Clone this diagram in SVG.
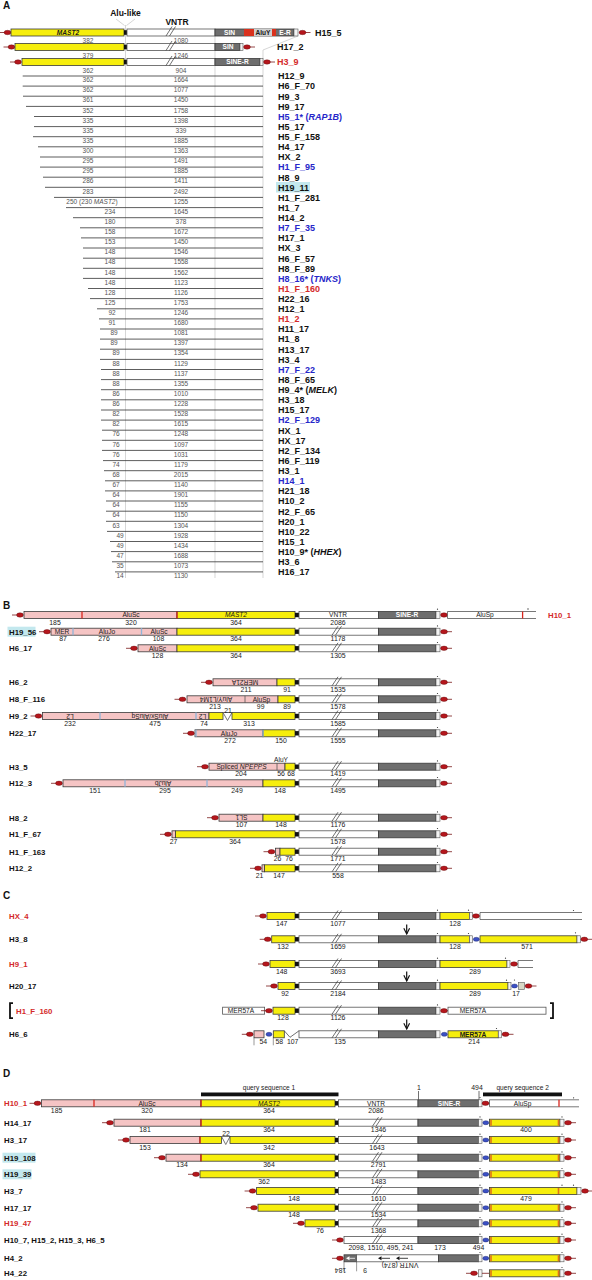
<svg xmlns="http://www.w3.org/2000/svg" width="592" height="1280" viewBox="0 0 592 1280">
<defs>
<style>
text{font-family:"Liberation Sans",Arial,sans-serif}
.y{fill:#f6ee0c;stroke:#3a3a3a;stroke-width:.8}
.p{fill:#f5c4c4;stroke:#3a3a3a;stroke-width:.8}
.w{fill:#fff;stroke:#555;stroke-width:.8}
.g{fill:#6e6e6e;stroke:#3a3a3a;stroke-width:.8}
.e{fill:#f4f4f4;stroke:#555;stroke-width:.6}
.k{fill:#111}
.rm{stroke:#d8261e;stroke-width:1.3}
.om{stroke:#e0701a;stroke-width:1.6}
.bm{stroke:#8fb4d8;stroke-width:1.3}
.sl{stroke:#333;stroke-width:.7;fill:none}
.gd{stroke:#c4c4c4;stroke-width:.7;fill:none}
.al{stroke:#333;stroke-width:.8}
.ln{stroke:#7a1a1a;stroke-width:.8}
.ce{fill:#b5161c;stroke:#5c0b0b;stroke-width:.4}
.cbe{fill:#3b50c4;stroke:#1c2466;stroke-width:.4}
.dot{fill:#333}
.la{font-size:9px;font-weight:bold;fill:#111}
.lb{font-size:7.8px;font-weight:bold;fill:#111}
.na{font-size:6.5px;fill:#555;text-anchor:middle}
.nb{font-size:6.9px;fill:#1a1a1a;text-anchor:middle}
.t{font-size:6.6px;fill:#1a1a1a;text-anchor:middle}
.tw{font-size:6.6px;fill:#fff;text-anchor:middle;font-weight:bold}
.it{font-style:italic}
.red{fill:#d42a2a}
.blu{fill:#2626c9}
.hl{fill:#c3e8ee}
.pl{font-size:10px;font-weight:bold;fill:#111}
.br{stroke:#111;stroke-width:1.8;fill:none}
.ar{stroke:#111;stroke-width:1.2;fill:none}
</style>
<g id="cl"><line class="ln" x1="-8" y1="0" x2="0" y2="0"/><ellipse class="ce" rx="3.4" ry="2.2"/></g>
<g id="cr"><line class="ln" x1="0" y1="0" x2="8" y2="0"/><ellipse class="ce" rx="3.4" ry="2.2"/></g>
<g id="cb"><ellipse class="cbe" rx="3" ry="2"/></g>
<g id="sl" class="sl"><line x1="-6" y1="3.5" x2="0" y2="-5.5"/><line x1="-2.5" y1="3.5" x2="3.5" y2="-5.5"/></g>
<g id="slA" class="sl"><line x1="-6" y1="3.5" x2="0" y2="-6"/><line x1="-2.5" y1="3.5" x2="3.5" y2="-6"/></g>
<g id="coreB"><rect class="k" x="295" y="-2.2" width="4" height="4.4"/><rect class="w" x="299" y="-3.5" width="79.5" height="7"/><rect class="g" x="378.5" y="-3.5" width="57.5" height="7"/><rect class="e" x="436" y="-3.5" width="4" height="7"/><circle class="dot" cx="437.5" cy="-5.8" r=".6"/></g>
<g id="coreD"><rect class="k" x="335" y="-2.2" width="3.5" height="4.4"/><rect class="w" x="338.5" y="-3.5" width="79.5" height="7"/><rect class="g" x="418" y="-3.5" width="60.5" height="7"/><rect class="e" x="478.5" y="-3.5" width="3.5" height="7"/><circle class="dot" cx="480" cy="-5.8" r=".6"/></g>
<g id="tailY"><rect class="y" x="489.5" y="-3.5" width="70.5" height="7"/><line class="om" x1="491" y1="-3" x2="491" y2="3"/><line class="om" x1="558.5" y1="-3" x2="558.5" y2="3"/><rect class="e" x="560" y="-3.5" width="4" height="7"/><circle class="dot" cx="562" cy="-5.8" r=".6"/><use href="#cr" x="568"/></g>
<g id="tailD"><use href="#cb" x="485.8"/><use href="#tailY"/></g>
<marker id="ah" viewBox="0 0 10 10" refX="9" refY="5" markerWidth="6" markerHeight="6" orient="auto"><path d="M1,1 L9,5 L1,9" fill="none" stroke="#111" stroke-width="1.6"/></marker>
</defs>
<rect width="592" height="1280" fill="#fff"/>

<!-- PANEL A -->
<g id="panelA">
<text class="pl" x="3" y="9">A</text>
<text x="125.5" y="16" font-size="8.5" font-weight="bold" text-anchor="middle" fill="#111">Alu-like</text>
<text x="177" y="25" font-size="8.5" font-weight="bold" text-anchor="middle" fill="#111">VNTR</text>
<g id="guides" class="gd">
<path d="M116,19 L124.5,25.5 M135,19 L126.5,25.5"/>
<line x1="125.5" y1="25" x2="125.5" y2="578"/>
<line x1="215" y1="37" x2="215" y2="578"/>
<path d="M298,36 L263,50 V578"/>
</g>

<g id="A_H15_5" transform="translate(0,32.5)">
<use href="#cl" x="7.5"/>
<rect class="y" x="11" y="-3.5" width="113" height="7"/>
<text class="t it" x="68" y="2.5" font-weight="bold" font-size="7.5">MAST2</text>
<rect class="k" x="124" y="-2.3" width="3" height="4.6"/>
<rect class="w" x="127" y="-3.5" width="88" height="7"/>
<use href="#slA" x="172"/>
<rect class="g" x="215" y="-3.5" width="79" height="7"/>
<rect fill="#d9321e" x="244" y="-3.5" width="10" height="7"/>
<rect fill="#cfcfcf" x="254" y="-3.5" width="18" height="7"/>
<rect fill="#d9321e" x="272" y="-3.5" width="4" height="7"/>
<text class="tw" x="229.5" y="2.4">SIN</text>
<text class="t" x="263" y="2.4" font-weight="bold">AluY</text>
<text class="tw" x="285" y="2.4">E-R</text>
<rect class="e" x="294" y="-3.5" width="4" height="7"/>
<use href="#cr" x="302.5"/>
<text class="la" x="315" y="3.3">H15_5</text>
<text class="na" x="88" y="10.5">382</text><text class="na" x="181" y="10.5">1080</text>
</g>
<g id="A_H17_2" transform="translate(0,47)">
<use href="#cl" x="11.5"/>
<rect class="y" x="15" y="-3.5" width="109" height="7"/>
<rect class="k" x="124" y="-2.3" width="3" height="4.6"/>
<rect class="w" x="127" y="-3.5" width="88" height="7"/>
<use href="#slA" x="172"/>
<rect class="g" x="215" y="-3.5" width="25" height="7"/>
<text class="tw" x="228" y="2.4">SIN</text>
<rect class="e" x="240" y="-3.5" width="3" height="7"/>
<use href="#cr" x="247"/>
<text class="la" x="277" y="3.3">H17_2</text>
<text class="na" x="88" y="10.5">379</text><text class="na" x="181" y="10.5">1246</text>
</g>
<g id="A_H3_9" transform="translate(0,62)">
<use href="#cl" x="18"/>
<rect class="y" x="22" y="-3.5" width="102" height="7"/>
<rect class="k" x="124" y="-2.3" width="3" height="4.6"/>
<rect class="w" x="127" y="-3.5" width="88" height="7"/>
<use href="#slA" x="172"/>
<rect class="g" x="215" y="-3.5" width="45" height="7"/>
<text class="tw" x="237.5" y="2.4">SINE-R</text>
<rect class="e" x="260" y="-3.5" width="3" height="7"/>
<use href="#cr" x="267"/>
<text class="la red" x="277" y="3.3">H3_9</text>
<text class="na" x="88" y="10.5">362</text><text class="na" x="181" y="10.5">904</text>
</g>

<g id="A_H12_9" transform="translate(0,76)"><line class="al" x1="22.7" x2="263"/><text class="na" x="88" y="6.3">362</text><text class="na" x="181" y="6.3">1664</text><text class="la" x="278" y="3.3">H12_9</text></g>
<g id="A_H6_F_70" transform="translate(0,86.1)"><line class="al" x1="22.7" x2="263"/><text class="na" x="88" y="6.3">362</text><text class="na" x="181" y="6.3">1077</text><text class="la" x="278" y="3.3">H6_F_70</text></g>
<g id="A_H9_3" transform="translate(0,96.2)"><line class="al" x1="23" x2="263"/><text class="na" x="88" y="6.3">361</text><text class="na" x="181" y="6.3">1450</text><text class="la" x="278" y="3.3">H9_3</text></g>
<g id="A_H9_17" transform="translate(0,106.4)"><line class="al" x1="26" x2="263"/><text class="na" x="88" y="6.3">352</text><text class="na" x="181" y="6.3">1758</text><text class="la" x="278" y="3.3">H9_17</text></g>
<g id="A_H5_1" transform="translate(0,116.5)"><line class="al" x1="34" x2="263"/><text class="na" x="88" y="6.3">335</text><text class="na" x="181" y="6.3">1398</text><text class="la blu" x="278" y="3.3">H5_1* (<tspan class="it">RAP1B</tspan>)</text></g>
<g id="A_H5_17" transform="translate(0,126.6)"><line class="al" x1="34" x2="263"/><text class="na" x="88" y="6.3">335</text><text class="na" x="181" y="6.3">339</text><text class="la" x="278" y="3.3">H5_17</text></g>
<g id="A_H5_F_158" transform="translate(0,136.7)"><line class="al" x1="33" x2="263"/><text class="na" x="88" y="6.3">335</text><text class="na" x="181" y="6.3">1885</text><text class="la" x="278" y="3.3">H5_F_158</text></g>
<g id="A_H4_17" transform="translate(0,146.8)"><line class="al" x1="38" x2="263"/><text class="na" x="88" y="6.3">300</text><text class="na" x="181" y="6.3">1363</text><text class="la" x="278" y="3.3">H4_17</text></g>
<g id="A_HX_2" transform="translate(0,157)"><line class="al" x1="40" x2="263"/><text class="na" x="88" y="6.3">295</text><text class="na" x="181" y="6.3">1491</text><text class="la" x="278" y="3.3">HX_2</text></g>
<g id="A_H1_F_95" transform="translate(0,167.1)"><line class="al" x1="40" x2="263"/><text class="na" x="88" y="6.3">295</text><text class="na" x="181" y="6.3">1885</text><text class="la blu" x="278" y="3.3">H1_F_95</text></g>
<g id="A_H8_9" transform="translate(0,177.2)"><line class="al" x1="43" x2="263"/><text class="na" x="88" y="6.3">286</text><text class="na" x="181" y="6.3">1411</text><text class="la" x="278" y="3.3">H8_9</text></g>
<g id="A_H19_11" transform="translate(0,187.3)"><rect class="hl" x="276" y="-5.3" width="34" height="10.5"/><line class="al" x1="45" x2="263"/><text class="na" x="88" y="6.3">283</text><text class="na" x="181" y="6.3">2492</text><text class="la" x="278" y="3.3">H19_11</text></g>
<g id="A_H1_F_281" transform="translate(0,197.4)"><line class="al" x1="54" x2="263"/><text class="na" x="92" y="6.3">250 (230 <tspan class="it">MAST2</tspan>)</text><text class="na" x="181" y="6.3">1255</text><text class="la" x="278" y="3.3">H1_F_281</text></g>
<g id="A_H1_7" transform="translate(0,207.6)"><line class="al" x1="66" x2="263"/><text class="na" x="110" y="6.3">234</text><text class="na" x="181" y="6.3">1645</text><text class="la" x="278" y="3.3">H1_7</text></g>
<g id="A_H14_2" transform="translate(0,217.7)"><line class="al" x1="73" x2="263"/><text class="na" x="110" y="6.3">180</text><text class="na" x="181" y="6.3">378</text><text class="la" x="278" y="3.3">H14_2</text></g>
<g id="A_H7_F_35" transform="translate(0,227.8)"><line class="al" x1="80" x2="263"/><text class="na" x="110" y="6.3">158</text><text class="na" x="181" y="6.3">1672</text><text class="la blu" x="278" y="3.3">H7_F_35</text></g>
<g id="A_H17_1" transform="translate(0,237.9)"><line class="al" x1="81" x2="263"/><text class="na" x="110" y="6.3">153</text><text class="na" x="181" y="6.3">1450</text><text class="la" x="278" y="3.3">H17_1</text></g>
<g id="A_HX_3" transform="translate(0,248)"><line class="al" x1="83" x2="263"/><text class="na" x="110" y="6.3">148</text><text class="na" x="181" y="6.3">1546</text><text class="la" x="278" y="3.3">HX_3</text></g>
<g id="A_H6_F_57" transform="translate(0,258.2)"><line class="al" x1="83" x2="263"/><text class="na" x="110" y="6.3">148</text><text class="na" x="181" y="6.3">1558</text><text class="la" x="278" y="3.3">H6_F_57</text></g>
<g id="A_H8_F_89" transform="translate(0,268.3)"><line class="al" x1="83" x2="263"/><text class="na" x="110" y="6.3">148</text><text class="na" x="181" y="6.3">1562</text><text class="la" x="278" y="3.3">H8_F_89</text></g>
<g id="A_H8_16" transform="translate(0,278.4)"><line class="al" x1="83" x2="263"/><text class="na" x="110" y="6.3">148</text><text class="na" x="181" y="6.3">1123</text><text class="la blu" x="278" y="3.3">H8_16* (<tspan class="it">TNKS</tspan>)</text></g>
<g id="A_H1_F_160" transform="translate(0,288.5)"><line class="al" x1="88" x2="263"/><text class="na" x="110" y="6.3">128</text><text class="na" x="181" y="6.3">1126</text><text class="la red" x="278" y="3.3">H1_F_160</text></g>
<g id="A_H22_16" transform="translate(0,298.6)"><line class="al" x1="90" x2="263"/><text class="na" x="110" y="6.3">125</text><text class="na" x="181" y="6.3">1753</text><text class="la" x="278" y="3.3">H22_16</text></g>
<g id="A_H12_1" transform="translate(0,308.8)"><line class="al" x1="97" x2="263"/><text class="na" x="112" y="6.3">92</text><text class="na" x="181" y="6.3">1246</text><text class="la" x="278" y="3.3">H12_1</text></g>
<g id="A_H1_2" transform="translate(0,318.9)"><line class="al" x1="99" x2="263"/><text class="na" x="112" y="6.3">91</text><text class="na" x="181" y="6.3">1680</text><text class="la red" x="278" y="3.3">H1_2</text></g>
<g id="A_H11_17" transform="translate(0,329)"><line class="al" x1="100" x2="263"/><text class="na" x="114" y="6.3">89</text><text class="na" x="181" y="6.3">1081</text><text class="la" x="278" y="3.3">H11_17</text></g>
<g id="A_H1_8" transform="translate(0,339.1)"><line class="al" x1="100" x2="263"/><text class="na" x="114" y="6.3">89</text><text class="na" x="181" y="6.3">1397</text><text class="la" x="278" y="3.3">H1_8</text></g>
<g id="A_H13_17" transform="translate(0,349.2)"><line class="al" x1="100" x2="263"/><text class="na" x="116" y="6.3">89</text><text class="na" x="181" y="6.3">1354</text><text class="la" x="278" y="3.3">H13_17</text></g>
<g id="A_H3_4" transform="translate(0,359.4)"><line class="al" x1="100" x2="263"/><text class="na" x="116" y="6.3">88</text><text class="na" x="181" y="6.3">1129</text><text class="la" x="278" y="3.3">H3_4</text></g>
<g id="A_H7_F_22" transform="translate(0,369.5)"><line class="al" x1="101" x2="263"/><text class="na" x="116" y="6.3">88</text><text class="na" x="181" y="6.3">1137</text><text class="la blu" x="278" y="3.3">H7_F_22</text></g>
<g id="A_H8_F_65" transform="translate(0,379.6)"><line class="al" x1="101" x2="263"/><text class="na" x="116" y="6.3">88</text><text class="na" x="181" y="6.3">1355</text><text class="la" x="278" y="3.3">H8_F_65</text></g>
<g id="A_H9_4" transform="translate(0,389.7)"><line class="al" x1="101" x2="263"/><text class="na" x="116" y="6.3">86</text><text class="na" x="181" y="6.3">1010</text><text class="la" x="278" y="3.3">H9_4* (<tspan class="it">MELK</tspan>)</text></g>
<g id="A_H3_18" transform="translate(0,399.8)"><line class="al" x1="101" x2="263"/><text class="na" x="116" y="6.3">86</text><text class="na" x="181" y="6.3">1228</text><text class="la" x="278" y="3.3">H3_18</text></g>
<g id="A_H15_17" transform="translate(0,410)"><line class="al" x1="101" x2="263"/><text class="na" x="116" y="6.3">82</text><text class="na" x="181" y="6.3">1528</text><text class="la" x="278" y="3.3">H15_17</text></g>
<g id="A_H2_F_129" transform="translate(0,420.1)"><line class="al" x1="101" x2="263"/><text class="na" x="116" y="6.3">82</text><text class="na" x="181" y="6.3">1615</text><text class="la blu" x="278" y="3.3">H2_F_129</text></g>
<g id="A_HX_1" transform="translate(0,430.2)"><line class="al" x1="102" x2="263"/><text class="na" x="116" y="6.3">76</text><text class="na" x="181" y="6.3">1248</text><text class="la" x="278" y="3.3">HX_1</text></g>
<g id="A_HX_17" transform="translate(0,440.3)"><line class="al" x1="102" x2="263"/><text class="na" x="116" y="6.3">76</text><text class="na" x="181" y="6.3">1097</text><text class="la" x="278" y="3.3">HX_17</text></g>
<g id="A_H2_F_134" transform="translate(0,450.4)"><line class="al" x1="102" x2="263"/><text class="na" x="116" y="6.3">76</text><text class="na" x="181" y="6.3">1031</text><text class="la" x="278" y="3.3">H2_F_134</text></g>
<g id="A_H6_F_119" transform="translate(0,460.6)"><line class="al" x1="103" x2="263"/><text class="na" x="116" y="6.3">74</text><text class="na" x="181" y="6.3">1179</text><text class="la" x="278" y="3.3">H6_F_119</text></g>
<g id="A_H3_1" transform="translate(0,470.7)"><line class="al" x1="104" x2="263"/><text class="na" x="116" y="6.3">68</text><text class="na" x="181" y="6.3">2015</text><text class="la" x="278" y="3.3">H3_1</text></g>
<g id="A_H14_1" transform="translate(0,480.8)"><line class="al" x1="105" x2="263"/><text class="na" x="116" y="6.3">67</text><text class="na" x="181" y="6.3">1140</text><text class="la blu" x="278" y="3.3">H14_1</text></g>
<g id="A_H21_18" transform="translate(0,490.9)"><line class="al" x1="105" x2="263"/><text class="na" x="116" y="6.3">64</text><text class="na" x="181" y="6.3">1901</text><text class="la" x="278" y="3.3">H21_18</text></g>
<g id="A_H10_2" transform="translate(0,501)"><line class="al" x1="106" x2="263"/><text class="na" x="116" y="6.3">64</text><text class="na" x="181" y="6.3">1155</text><text class="la" x="278" y="3.3">H10_2</text></g>
<g id="A_H2_F_65" transform="translate(0,511.2)"><line class="al" x1="106" x2="263"/><text class="na" x="116" y="6.3">64</text><text class="na" x="181" y="6.3">1150</text><text class="la" x="278" y="3.3">H2_F_65</text></g>
<g id="A_H20_1" transform="translate(0,521.3)"><line class="al" x1="106" x2="263"/><text class="na" x="116" y="6.3">63</text><text class="na" x="181" y="6.3">1304</text><text class="la" x="278" y="3.3">H20_1</text></g>
<g id="A_H10_22" transform="translate(0,531.4)"><line class="al" x1="107" x2="263"/><text class="na" x="120" y="6.3">49</text><text class="na" x="181" y="6.3">1928</text><text class="la" x="278" y="3.3">H10_22</text></g>
<g id="A_H15_1" transform="translate(0,541.5)"><line class="al" x1="110" x2="263"/><text class="na" x="120" y="6.3">49</text><text class="na" x="181" y="6.3">1434</text><text class="la" x="278" y="3.3">H15_1</text></g>
<g id="A_H10_9" transform="translate(0,551.6)"><line class="al" x1="111" x2="263"/><text class="na" x="120" y="6.3">47</text><text class="na" x="181" y="6.3">1688</text><text class="la" x="278" y="3.3">H10_9* (<tspan class="it">HHEX</tspan>)</text></g>
<g id="A_H3_6" transform="translate(0,561.8)"><line class="al" x1="112" x2="263"/><text class="na" x="120" y="6.3">35</text><text class="na" x="181" y="6.3">1073</text><text class="la" x="278" y="3.3">H3_6</text></g>
<g id="A_H16_17" transform="translate(0,571.9)"><line class="al" x1="115" x2="263"/><text class="na" x="120" y="6.3">14</text><text class="na" x="181" y="6.3">1130</text><text class="la" x="278" y="3.3">H16_17</text></g>
</g>

<!-- PANEL B -->
<g id="panelB">
<text class="pl" x="3" y="609">B</text>
<g id="B_H10_1" transform="translate(0,615)">
<use href="#cl" x="20"/>
<rect class="p" x="24" y="-3.5" width="153" height="7"/>
<rect class="y" x="177" y="-3.5" width="118" height="7"/>
<line class="rm" x1="82" y1="-3.5" x2="82" y2="3.5"/><line class="rm" x1="177" y1="-3.5" x2="177" y2="3.5"/>
<text class="t" x="131" y="2.3">AluSc</text>
<text class="t it" x="236" y="2.3">MAST2</text>
<use href="#coreB"/>
<text class="t" x="338" y="2.3">VNTR</text>
<text class="tw" x="407" y="2.3">SINE-R</text>
<use href="#cr" x="444"/>
<path class="w" d="M536,-3.5H447.5V3.5H536"/>
<line class="rm" x1="522.6" y1="-3.5" x2="522.6" y2="3.5"/>
<text class="t" x="485" y="2.3">AluSp</text>
<circle class="dot" cx="528" cy="-6" r=".7"/>
<text class="lb red" x="548" y="3">H10_1</text>
<text class="nb" x="55" y="9.8">185</text><text class="nb" x="131" y="9.8">320</text><text class="nb" x="236" y="9.8">364</text><text class="nb" x="338" y="9.8">2086</text>
</g>
<g id="B_H19_56" transform="translate(0,631.7)">
<rect class="hl" x="7.5" y="-5" width="28" height="10"/>
<text class="lb" x="9" y="3">H19_56</text>
<use href="#cl" x="47"/>
<rect class="p" x="51" y="-3.5" width="126" height="7"/>
<rect class="y" x="177" y="-3.5" width="118" height="7"/>
<line class="bm" x1="73" y1="-3.5" x2="73" y2="3.5"/><line class="bm" x1="141.5" y1="-3.5" x2="141.5" y2="3.5"/>
<text class="t" x="62" y="2.3">MER</text><text class="t" x="107" y="2.3">AluJo</text><text class="t" x="159" y="2.3">AluSc</text>
<use href="#coreB"/><use href="#sl" x="338"/><use href="#cr" x="444"/>
<text class="nb" x="63" y="9.8">87</text><text class="nb" x="104" y="9.8">276</text><text class="nb" x="158.5" y="9.8">108</text><text class="nb" x="236" y="9.8">364</text><text class="nb" x="338" y="9.8">1178</text>
</g>
<g id="B_H6_17" transform="translate(0,648.3)">
<text class="lb" x="9" y="3">H6_17</text>
<use href="#cl" x="134"/>
<rect class="p" x="138" y="-3.5" width="39" height="7"/>
<rect class="y" x="177" y="-3.5" width="118" height="7"/>
<text class="t" x="157.5" y="2.3">AluSc</text>
<use href="#coreB"/><use href="#sl" x="338"/><use href="#cr" x="444"/>
<text class="nb" x="157.5" y="9.8">128</text><text class="nb" x="236" y="9.8">364</text><text class="nb" x="338" y="9.8">1305</text>
</g>
<g id="B_H6_2" transform="translate(0,682.3)">
<text class="lb" x="9" y="3">H6_2</text>
<use href="#cl" x="209"/>
<rect class="p" x="213" y="-3.5" width="64" height="7"/>
<rect class="y" x="277" y="-3.5" width="18" height="7"/>
<text class="t" x="245" y="2.3" transform="rotate(180 245 0)">MER21A</text>
<use href="#coreB"/><use href="#sl" x="338"/><use href="#cr" x="444"/>
<text class="nb" x="246" y="9.8">211</text><text class="nb" x="287" y="9.8">91</text><text class="nb" x="338" y="9.8">1535</text>
</g>
<g id="B_H8_F_116" transform="translate(0,699.3)">
<text class="lb" x="9" y="3">H8_F_116</text>
<use href="#cl" x="182.5"/>
<rect class="p" x="187" y="-3.5" width="91" height="7"/>
<rect class="y" x="278" y="-3.5" width="17" height="7"/>
<line stroke="#555" stroke-width=".8" x1="245" y1="-3.5" x2="245" y2="3.5"/>
<text class="t" x="216" y="2.3" transform="rotate(180 216 0)">AluY/L1M4</text>
<text class="t" x="261.5" y="2.3">AluSp</text>
<use href="#coreB"/><use href="#sl" x="338"/><use href="#cr" x="444"/>
<text class="nb" x="215" y="9.8">213</text><text class="nb" x="260.7" y="9.8">99</text><text class="nb" x="287" y="9.8">89</text><text class="nb" x="338" y="9.8">1578</text>
</g>
<g id="B_H9_2" transform="translate(0,716)">
<text class="lb" x="9" y="3">H9_2</text>
<use href="#cl" x="38.5"/>
<rect class="p" x="42.5" y="-3.5" width="166.5" height="7"/>
<line class="bm" x1="100" y1="-3.5" x2="100" y2="3.5"/><line class="bm" x1="196" y1="-3.5" x2="196" y2="3.5"/>
<text class="t" x="70" y="2.3" transform="rotate(180 70 0)">L2</text>
<text class="t" x="150" y="2.3" transform="rotate(180 150 0)">AluSx/AluSq</text>
<text class="t" x="202.5" y="2.3" font-size="5.5" transform="rotate(180 202.5 0)">L2</text>
<rect class="y" x="209" y="-3.5" width="14" height="7"/>
<polygon class="w" points="223,-3.5 232,-3.5 227.5,4.5"/>
<text class="nb" x="228" y="-3.2">21</text>
<rect class="y" x="232" y="-3.5" width="63" height="7"/>
<use href="#coreB"/><use href="#sl" x="338"/><use href="#cr" x="444"/>
<text class="nb" x="70" y="9.8">232</text><text class="nb" x="155" y="9.8">475</text><text class="nb" x="204" y="9.8">74</text><text class="nb" x="249" y="9.8">313</text><text class="nb" x="338" y="9.8">1585</text>
</g>
<g id="B_H22_17" transform="translate(0,733.3)">
<text class="lb" x="9" y="3">H22_17</text>
<use href="#cl" x="191"/>
<rect class="p" x="195" y="-3.5" width="68" height="7"/>
<rect class="y" x="263" y="-3.5" width="32" height="7"/>
<line class="bm" x1="196" y1="-3.5" x2="196" y2="3.5"/><line class="bm" x1="263" y1="-3.5" x2="263" y2="3.5"/>
<text class="t" x="229" y="2.3">AluJo</text>
<use href="#coreB"/><use href="#sl" x="338"/><use href="#cr" x="444"/>
<text class="nb" x="230" y="9.8">272</text><text class="nb" x="281" y="9.8">150</text><text class="nb" x="338" y="9.8">1555</text>
</g>
<g id="B_H3_5" transform="translate(0,766.7)">
<text class="lb" x="9" y="3">H3_5</text>
<use href="#cl" x="205"/>
<rect class="p" x="209" y="-3.5" width="76" height="7"/>
<line stroke="#555" stroke-width=".8" x1="277" y1="-3.5" x2="277" y2="3.5"/>
<rect class="y" x="285" y="-3.5" width="10" height="7"/>
<text class="t" x="241.5" y="2.3">Spliced <tspan class="it">NPEPPS</tspan></text>
<text class="t" x="281" y="-4.5">AluY</text>
<use href="#coreB"/><use href="#sl" x="338"/><use href="#cr" x="444"/>
<text class="nb" x="241" y="9.8">204</text><text class="nb" x="281" y="9.8">56</text><text class="nb" x="291" y="9.8">68</text><text class="nb" x="338" y="9.8">1419</text>
</g>
<g id="B_H12_3" transform="translate(0,783.3)">
<text class="lb" x="9" y="3">H12_3</text>
<use href="#cl" x="59"/>
<rect class="p" x="63" y="-3.5" width="200" height="7"/>
<rect class="y" x="263" y="-3.5" width="32" height="7"/>
<line class="bm" x1="125" y1="-3.5" x2="125" y2="3.5"/><line class="bm" x1="207" y1="-3.5" x2="207" y2="3.5"/>
<text class="t" x="163" y="2.3" transform="rotate(180 163 0)">AluJb</text>
<use href="#coreB"/><use href="#sl" x="338"/><use href="#cr" x="444"/>
<text class="nb" x="95" y="9.8">151</text><text class="nb" x="165" y="9.8">295</text><text class="nb" x="237" y="9.8">249</text><text class="nb" x="280" y="9.8">148</text><text class="nb" x="338" y="9.8">1495</text>
</g>
<g id="B_H8_2" transform="translate(0,817.7)">
<text class="lb" x="9" y="3">H8_2</text>
<use href="#cl" x="215"/>
<rect class="p" x="219" y="-3.5" width="44" height="7"/>
<rect class="y" x="263" y="-3.5" width="32" height="7"/>
<text class="t" x="241.5" y="2.3" transform="rotate(180 241.5 0)">SL1</text>
<use href="#coreB"/><use href="#sl" x="338"/><use href="#cr" x="444"/>
<text class="nb" x="241.5" y="9.8">107</text><text class="nb" x="281" y="9.8">148</text><text class="nb" x="338" y="9.8">1176</text>
</g>
<g id="B_H1_F_67" transform="translate(0,834.3)">
<text class="lb" x="9" y="3">H1_F_67</text>
<use href="#cl" x="168"/>
<rect class="p" x="172" y="-3.5" width="3.5" height="7"/>
<rect class="y" x="175.5" y="-3.5" width="119.5" height="7"/>
<use href="#coreB"/><use href="#sl" x="338"/><use href="#cr" x="444"/>
<text class="nb" x="173.5" y="9.8">27</text><text class="nb" x="235" y="9.8">364</text><text class="nb" x="338" y="9.8">1578</text>
</g>
<g id="B_H1_F_163" transform="translate(0,851.7)">
<text class="lb" x="9" y="3">H1_F_163</text>
<use href="#cl" x="271.5"/>
<rect class="p" x="275.5" y="-3.5" width="4.5" height="7"/>
<rect class="y" x="280" y="-3.5" width="15" height="7"/>
<use href="#coreB"/><use href="#sl" x="338"/><use href="#cr" x="444"/>
<text class="nb" x="277.5" y="9.8">26</text><text class="nb" x="289" y="9.8">76</text><text class="nb" x="338" y="9.8">1771</text>
</g>
<g id="B_H12_2" transform="translate(0,868.3)">
<text class="lb" x="9" y="3">H12_2</text>
<use href="#cl" x="258"/>
<rect class="p" x="262" y="-3.5" width="2.5" height="7"/>
<rect class="y" x="264.5" y="-3.5" width="30.5" height="7"/>
<use href="#coreB"/><use href="#sl" x="338"/><use href="#cr" x="444"/>
<text class="nb" x="259.6" y="9.8">21</text><text class="nb" x="279" y="9.8">147</text><text class="nb" x="338" y="9.8">558</text>
</g>
</g>

<!-- PANEL C -->
<g id="panelC">
<text class="pl" x="3" y="899">C</text>
<g id="C_HX_4" transform="translate(0,916)">
<text class="lb red" x="9" y="3">HX_4</text>
<use href="#cl" x="263"/>
<rect class="y" x="267" y="-3.5" width="28" height="7"/>
<use href="#coreB"/><use href="#sl" x="338"/>
<rect class="y" x="440" y="-3.5" width="29.5" height="7"/>
<rect class="e" x="469.5" y="-3.5" width="3" height="7"/>
<circle class="dot" cx="468.5" cy="-5.8" r=".6"/>
<use href="#cr" x="476"/>
<path class="w" d="M582,-3.5H480V3.5H582"/>
<circle class="dot" cx="573.5" cy="-5.5" r=".6"/>
<text class="nb" x="281.7" y="9.8">147</text><text class="nb" x="338" y="9.8">1077</text><text class="nb" x="455" y="9.8">128</text>
</g>
<g id="C_H3_8" transform="translate(0,939.3)">
<text class="lb" x="9" y="3">H3_8</text>
<use href="#cl" x="267.7"/>
<rect class="y" x="271.7" y="-3.5" width="23.3" height="7"/>
<use href="#coreB"/><use href="#sl" x="338"/>
<rect class="y" x="440" y="-3.5" width="29.5" height="7"/>
<rect class="e" x="469.5" y="-3.5" width="3" height="7"/>
<circle class="dot" cx="468.5" cy="-5.8" r=".6"/>
<use href="#cb" x="476.3"/>
<rect class="y" x="480" y="-3.5" width="97" height="7"/>
<rect class="e" x="577" y="-3.5" width="3.5" height="7"/>
<circle class="dot" cx="575.5" cy="-6.5" r=".6"/>
<use href="#cr" x="584.3"/>
<text class="nb" x="283" y="9.8">132</text><text class="nb" x="338" y="9.8">1659</text><text class="nb" x="455" y="9.8">128</text><text class="nb" x="527" y="9.8">571</text>
</g>
<g id="C_H9_1" transform="translate(0,964)">
<text class="lb red" x="9" y="3">H9_1</text>
<use href="#cl" x="266"/>
<rect class="y" x="270" y="-3.5" width="25" height="7"/>
<use href="#coreB"/><use href="#sl" x="338"/>
<rect class="y" x="440" y="-3.5" width="67" height="7"/>
<rect class="e" x="507" y="-3.5" width="3" height="7"/>
<circle class="dot" cx="505.5" cy="-5.8" r=".6"/>
<use href="#cr" x="514"/>
<path class="w" d="M533,-3.5H518V3.5H533"/>
<text class="nb" x="281.7" y="9.8">148</text><text class="nb" x="338" y="9.8">3693</text><text class="nb" x="475" y="9.8">289</text>
</g>
<g id="C_H20_17" transform="translate(0,986)">
<text class="lb" x="9" y="3">H20_17</text>
<use href="#cl" x="274"/>
<rect class="y" x="278" y="-3.5" width="17" height="7"/>
<use href="#coreB"/><use href="#sl" x="338"/>
<rect class="y" x="440" y="-3.5" width="68" height="7"/>
<rect class="e" x="508" y="-3.5" width="3" height="7"/>
<circle class="dot" cx="506.5" cy="-5.8" r=".6"/>
<use href="#cb" x="514.5"/>
<circle class="dot" cx="514.5" cy="-6" r=".6"/>
<rect fill="#d8d8c6" stroke="#555" stroke-width=".6" x="518.5" y="-3.5" width="6" height="7"/>
<use href="#cr" x="528.5"/>
<text class="nb" x="285" y="9.8">92</text><text class="nb" x="338" y="9.8">2184</text><text class="nb" x="475" y="9.8">289</text><text class="nb" x="516" y="9.8">17</text>
</g>
<g id="C_H1_F_160" transform="translate(0,1010.7)">
<path class="br" d="M13,-7.5H10V7.5H13"/>
<text class="lb red" x="16" y="3">H1_F_160</text>
<rect class="w" x="222.6" y="-3.5" width="42" height="7"/>
<text class="t" x="241" y="2.3">MER57A</text>
<use href="#cl" x="269"/>
<rect class="y" x="273" y="-3.5" width="22" height="7"/>
<use href="#coreB"/><use href="#sl" x="338"/>
<use href="#cr" x="444"/>
<rect class="w" x="448" y="-3.5" width="98" height="7"/>
<text class="t" x="473" y="2.3">MER57A</text>
<path class="br" d="M550,-7.5H553V7.5H550"/>
<text class="nb" x="283" y="9.8">128</text><text class="nb" x="338" y="9.8">1126</text>
</g>
<g id="C_H6_6" transform="translate(0,1034.3)">
<text class="lb" x="9" y="3">H6_6</text>
<use href="#cl" x="249.8"/>
<rect class="p" x="254" y="-3.5" width="10" height="7"/>
<use href="#cb" x="269"/>
<rect class="y" x="273.3" y="-3.5" width="11" height="7"/>
<polyline class="sl" points="284.3,-3.5 290,3 299,-3.5"/>
<rect class="w" x="299" y="-3.5" width="79.5" height="7"/>
<use href="#sl" x="338"/>
<rect class="g" x="378.5" y="-3.5" width="57.5" height="7"/>
<rect class="e" x="436" y="-3.5" width="4" height="7"/>
<use href="#cb" x="444.3"/>
<rect class="y" x="448" y="-3.5" width="50.3" height="7"/>
<text class="t" x="473" y="2.3" font-weight="bold">MER57A</text>
<rect class="e" x="498.3" y="-3.5" width="3" height="7"/>
<circle class="dot" cx="496.5" cy="-5.8" r=".6"/>
<use href="#cr" x="505.5"/>
<line stroke="#555" stroke-width=".6" x1="254" y1="3.5" x2="254" y2="11"/>
<line stroke="#555" stroke-width=".6" x1="273.3" y1="3.5" x2="273.3" y2="11"/>
<text class="nb" x="263.3" y="9.8">54</text><text class="nb" x="279.3" y="9.8">58</text><text class="nb" x="292.7" y="9.8">107</text><text class="nb" x="340" y="9.8">135</text><text class="nb" x="474" y="9.8">214</text>
</g>
</g>

<g id="connectors">
<line class="ar" x1="406.7" y1="924.5" x2="406.7" y2="934" marker-end="url(#ah)"/>
<line class="ar" x1="406.7" y1="971.5" x2="406.7" y2="981" marker-end="url(#ah)"/>
<line class="ar" x1="406.7" y1="1019.5" x2="406.7" y2="1029" marker-end="url(#ah)"/>
</g>

<!-- PANEL D -->
<g id="panelD">
<text class="pl" x="3" y="1077">D</text>
<g id="D_query">
<rect class="k" x="201" y="1092.5" width="137.5" height="3.8"/>
<text class="t" x="269" y="1090">query sequence 1</text>
<rect class="k" x="483" y="1092.5" width="79" height="3.8"/>
<text class="t" x="522.6" y="1090">query sequence 2</text>
<text class="nb" x="419" y="1090">1</text>
<line stroke="#333" stroke-width=".7" x1="418.5" y1="1091" x2="418.5" y2="1099.8"/>
<text class="nb" x="477" y="1090">494</text>
<line stroke="#333" stroke-width=".7" x1="479" y1="1091" x2="479" y2="1099.8"/>
</g>
<g id="D_H10_1" transform="translate(0,1103.3)">
<text class="lb red" x="4" y="3">H10_1</text>
<use href="#cl" x="37.5"/>
<rect class="p" x="41.5" y="-3.5" width="159.5" height="7"/>
<rect class="y" x="201" y="-3.5" width="134" height="7"/>
<line class="rm" x1="94" y1="-3.5" x2="94" y2="3.5"/><line class="rm" x1="201" y1="-3.5" x2="201" y2="3.5"/>
<text class="t" x="147" y="2.3">AluSc</text>
<text class="t it" x="269" y="2.3">MAST2</text>
<use href="#coreD"/>
<text class="t" x="376" y="2.3">VNTR</text>
<text class="tw" x="449" y="2.3">SINE-R</text>
<use href="#cr" x="485.5"/>
<path class="w" d="M579,-3.5H489.5V3.5H579"/>
<line class="rm" x1="559" y1="-3.5" x2="559" y2="3.5"/>
<text class="t" x="522.6" y="2.3">AluSp</text>
<circle class="dot" cx="573.6" cy="-5.5" r=".6"/>
<text class="nb" x="56.6" y="9.8">185</text><text class="nb" x="147" y="9.8">320</text><text class="nb" x="269" y="9.8">364</text><text class="nb" x="376" y="9.8">2086</text>
</g>
<g id="D_H14_17" transform="translate(0,1122.7)">
<text class="lb" x="4" y="3">H14_17</text>
<use href="#cl" x="110"/>
<rect class="p" x="114" y="-3.5" width="87" height="7"/>
<rect class="y" x="201" y="-3.5" width="134" height="7"/>
<line class="rm" x1="201" y1="-3.5" x2="201" y2="3.5"/>
<use href="#coreD"/><use href="#sl" x="378.5"/><use href="#tailD"/>
<text class="nb" x="145" y="9.8">181</text><text class="nb" x="269" y="9.8">364</text><text class="nb" x="378.5" y="9.8">1346</text><text class="nb" x="526" y="9.8">400</text>
</g>
<g id="D_H3_17" transform="translate(0,1140)">
<text class="lb" x="4" y="3">H3_17</text>
<use href="#cl" x="126"/>
<rect class="p" x="130" y="-3.5" width="70" height="7"/>
<rect class="y" x="200" y="-3.5" width="21.5" height="7"/>
<line class="rm" x1="200" y1="-3.5" x2="200" y2="3.5"/>
<polygon class="w" points="221.5,-3.5 230,-3.5 225.75,4.5"/>
<text class="nb" x="226" y="-3.8">22</text>
<rect class="y" x="230" y="-3.5" width="105" height="7"/>
<use href="#coreD"/><use href="#sl" x="378.5"/><use href="#tailD"/>
<text class="nb" x="145" y="9.8">153</text><text class="nb" x="269" y="9.8">342</text><text class="nb" x="377" y="9.8">1643</text>
</g>
<g id="D_H19_108" transform="translate(0,1157.7)">
<rect class="hl" x="2.5" y="-5" width="33" height="10"/>
<text class="lb" x="4" y="3">H19_108</text>
<use href="#cl" x="162"/>
<rect class="p" x="166" y="-3.5" width="35" height="7"/>
<rect class="y" x="201" y="-3.5" width="134" height="7"/>
<line class="rm" x1="201" y1="-3.5" x2="201" y2="3.5"/>
<use href="#coreD"/><use href="#sl" x="378.5"/><use href="#tailD"/>
<text class="nb" x="182" y="9.8">134</text><text class="nb" x="269" y="9.8">364</text><text class="nb" x="378.5" y="9.8">2791</text>
</g>
<g id="D_H19_39" transform="translate(0,1174.3)">
<rect class="hl" x="2.5" y="-5" width="29" height="10"/>
<text class="lb" x="4" y="3">H19_39</text>
<use href="#cl" x="196"/>
<rect class="y" x="200" y="-3.5" width="135" height="7"/>
<use href="#coreD"/><use href="#sl" x="378.5"/><use href="#tailD"/>
<text class="nb" x="264" y="9.8">362</text><text class="nb" x="378.5" y="9.8">1483</text>
</g>
<g id="D_H3_7" transform="translate(0,1191)">
<text class="lb" x="4" y="3">H3_7</text>
<use href="#cl" x="252.6"/>
<rect class="y" x="256.6" y="-3.5" width="78.4" height="7"/>
<use href="#coreD"/><use href="#sl" x="378.5"/>
<use href="#cb" x="485.8"/>
<rect class="y" x="489.5" y="-3.5" width="87.5" height="7"/>
<line class="om" x1="491" y1="-3" x2="491" y2="3"/><line class="om" x1="558.5" y1="-3" x2="558.5" y2="3"/>
<circle class="dot" cx="562" cy="-5.8" r=".6"/><circle class="dot" cx="573.5" cy="-5.8" r=".6"/>
<rect class="e" x="577" y="-3.5" width="4" height="7"/>
<use href="#cr" x="585"/>
<text class="nb" x="294" y="9.8">148</text><text class="nb" x="378.5" y="9.8">1610</text><text class="nb" x="526" y="9.8">479</text>
</g>
<g id="D_H17_17" transform="translate(0,1207.7)">
<text class="lb" x="4" y="3">H17_17</text>
<use href="#cl" x="254"/>
<rect class="y" x="258" y="-3.5" width="77" height="7"/>
<use href="#coreD"/><use href="#sl" x="378.5"/><use href="#tailD"/>
<text class="nb" x="294" y="9.8">148</text><text class="nb" x="378.5" y="9.8">1534</text>
</g>
<g id="D_H19_47" transform="translate(0,1223.3)">
<text class="lb red" x="4" y="3">H19_47</text>
<use href="#cl" x="301"/>
<rect class="y" x="305" y="-3.5" width="30" height="7"/>
<use href="#coreD"/><use href="#sl" x="378.5"/><use href="#tailD"/>
<text class="nb" x="320" y="9.8">76</text><text class="nb" x="378.5" y="9.8">1368</text>
</g>
<g id="D_H10_7" transform="translate(0,1240)">
<text class="lb" x="4" y="3">H10_7, H15_2, H15_3,  H6_5</text>
<use href="#cl" x="340"/>
<rect class="w" x="344" y="-3.5" width="74" height="7"/>
<use href="#sl" x="378.5"/>
<rect class="g" x="418" y="-3.5" width="60.5" height="7"/>
<rect class="e" x="478.5" y="-3.5" width="3.5" height="7"/>
<circle class="dot" cx="480" cy="-5.8" r=".6"/>
<use href="#tailD"/>
<text class="nb" x="381" y="9.8">2098, 1510, 495, 241</text>
</g>
<g id="D_H4_2" transform="translate(0,1258.3)">
<text class="lb" x="4" y="3">H4_2</text>
<text class="nb" x="440" y="-8.5">173</text><text class="nb" x="478.5" y="-8.5">494</text>
<use href="#cl" x="340"/>
<rect class="g" x="344" y="-3.5" width="12.6" height="7"/>
<path d="M346,0 L349.5,-2 L349.5,2 Z" fill="#fff"/><line stroke="#fff" stroke-width=".8" x1="349.5" y1="0" x2="355" y2="0"/>
<rect class="w" x="356.6" y="-3.5" width="81.9" height="7"/>
<path d="M378,0 L381.5,-2 L381.5,2 Z" fill="#111"/><line stroke="#111" stroke-width=".8" x1="381.5" y1="0" x2="390" y2="0"/>
<path d="M396,0 L399.5,-2 L399.5,2 Z" fill="#111"/><line stroke="#111" stroke-width=".8" x1="399.5" y1="0" x2="408" y2="0"/>
<rect class="g" x="438.5" y="-3.5" width="40" height="7"/>
<rect class="e" x="478.5" y="-3.5" width="3.5" height="7"/>
<circle class="dot" cx="480" cy="-5.8" r=".6"/>
<use href="#tailD"/>
<line stroke="#555" stroke-width=".6" x1="344" y1="3.5" x2="344" y2="13"/>
<line stroke="#555" stroke-width=".6" x1="356.6" y1="3.5" x2="356.6" y2="13"/>
<text class="nb" x="340.5" y="14" transform="rotate(180 340.5 11.7)">184</text>
<text class="nb" x="365" y="14" transform="rotate(180 365 11.7)">9</text>
<text class="nb" x="400" y="9" transform="rotate(180 400 6.7)">VNTR (874)</text>
</g>
<g id="D_H4_22" transform="translate(0,1273.3)">
<text class="lb" x="4" y="3">H4_22</text>
<use href="#cl" x="474"/>
<rect class="e" x="478.5" y="-3.5" width="3.5" height="7"/>
<line class="ln" x1="482" y1="0" x2="489.5" y2="0"/>
<use href="#tailY"/>
</g>
</g>
</svg>
